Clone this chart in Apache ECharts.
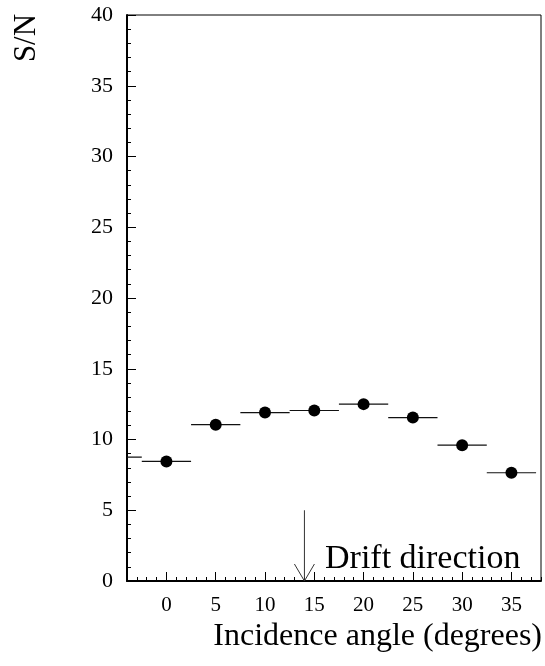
<!DOCTYPE html>
<html>
<head>
<meta charset="utf-8">
<script src="https://cdn.jsdelivr.net/npm/echarts@6/dist/echarts.min.js"></script>
<style>
  html, body { margin: 0; padding: 0; background: #fff; }
  #chart { width: 545px; height: 666px; }
</style>
</head>
<body>
<div id="chart"></div>
<script>
// incidence angle bins (degrees) and measured S/N
const angles = [-5, 0, 5, 10, 15, 20, 25, 30, 35]
const snr = [8.75, 8.45, 11.05, 11.9, 12.05, 12.5, 11.55, 9.6, 7.65]
const binHalfWidth = 2.5

const xMajorTicks = [0, 5, 10, 15, 20, 25, 30, 35]

// drift direction arrow: x position and top of shaft
const arrowX = 14
const arrowTop = 5

const serif = "'Liberation Serif', 'Times New Roman', serif"
const points = angles.map((a, i) => [a, snr[i]])

const chart = echarts.init(document.getElementById('chart'))

chart.setOption({
  animation: false,
  grid: {
    left: 127,
    right: 4,
    top: 15,
    bottom: 85,
    show: true,
    borderColor: '#000',
    borderWidth: 1
  },
  xAxis: [
    {
      type: 'value',
      min: -4,
      max: 38,
      interval: 1,
      axisLine: { onZero: false, lineStyle: { color: '#000', width: 2 } },
      axisTick: { inside: true, length: 4, lineStyle: { color: '#000' } },
      axisLabel: {
        interval: 0,
        margin: 14,
        color: '#000',
        fontFamily: serif,
        fontSize: 21,
        formatter: v => (xMajorTicks.includes(v) ? String(v) : '')
      },
      splitLine: { show: false }
    },
    {
      type: 'value',
      min: -4,
      max: 38,
      position: 'bottom',
      axisLine: { show: false, onZero: false },
      axisTick: { inside: true, length: 9, customValues: xMajorTicks, lineStyle: { color: '#000' } },
      axisLabel: { show: false },
      splitLine: { show: false }
    }
  ],
  yAxis: {
    type: 'value',
    min: 0,
    max: 40,
    interval: 5,
    axisLine: { show: true, onZero: false, lineStyle: { color: '#000', width: 2 } },
    axisTick: { show: true, inside: true, length: 9, lineStyle: { color: '#000' } },
    minorTick: { show: true, splitNumber: 5, length: 4, lineStyle: { color: '#000' } },
    axisLabel: {
      margin: 14,
      color: '#000',
      fontFamily: serif,
      fontSize: 22
    },
    splitLine: { show: false }
  },
  series: [
    {
      name: 'bins',
      type: 'custom',
      clip: true,
      xAxisIndex: 0,
      data: points,
      renderItem: (params, api) => {
        const x = api.value(0)
        const y = api.value(1)
        const p1 = api.coord([x - binHalfWidth, y])
        const p2 = api.coord([x + binHalfWidth, y])
        return {
          type: 'line',
          shape: { x1: p1[0], y1: p1[1], x2: p2[0], y2: p2[1] },
          style: { stroke: '#111', lineWidth: 1.2 }
        }
      },
      z: 2
    },
    {
      name: 'S/N',
      type: 'scatter',
      xAxisIndex: 0,
      data: points,
      symbol: 'circle',
      symbolSize: 12,
      itemStyle: { color: '#000', opacity: 1 },
      z: 3
    },
    {
      name: 'arrow',
      type: 'custom',
      xAxisIndex: 0,
      data: [[arrowX, arrowTop]],
      renderItem: (params, api) => {
        const top = api.coord([api.value(0), api.value(1)])
        const tip = api.coord([api.value(0), 0])
        return {
          type: 'group',
          children: [
            {
              type: 'line',
              shape: { x1: top[0], y1: top[1], x2: tip[0], y2: tip[1] },
              style: { stroke: '#333', lineWidth: 1 }
            },
            {
              type: 'polyline',
              shape: { points: [[tip[0] - 10, tip[1] - 17], [tip[0], tip[1]], [tip[0] + 10, tip[1] - 17]] },
              style: { stroke: '#333', lineWidth: 1, fill: null }
            }
          ]
        }
      },
      z: 4
    }
  ],
  graphic: [
    {
      type: 'text',
      x: 325,
      y: 576,
      style: {
        text: 'Drift direction',
        font: '34px ' + serif,
        fill: '#000',
        textAlign: 'left',
        textVerticalAlign: 'bottom',
        align: 'left',
        verticalAlign: 'bottom'
      },
      z: 10
    },
    {
      type: 'text',
      x: 542,
      y: 637,
      style: {
        text: 'Incidence angle (degrees)',
        font: '32px ' + serif,
        fill: '#000',
        textAlign: 'right',
        textVerticalAlign: 'middle',
        align: 'right',
        verticalAlign: 'middle'
      }
    },
    {
      type: 'text',
      x: 27,
      y: 38,
      rotation: Math.PI / 2,
      style: {
        text: 'S/N',
        font: '31px ' + serif,
        fill: '#000',
        textAlign: 'center',
        textVerticalAlign: 'middle',
        align: 'center',
        verticalAlign: 'middle'
      }
    }
  ]
})
</script>
</body>
</html>
